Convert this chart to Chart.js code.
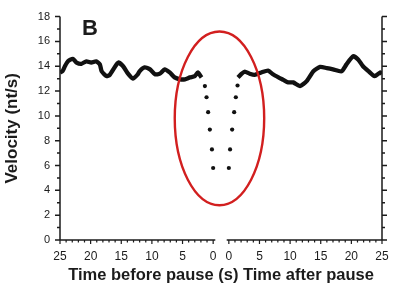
<!DOCTYPE html>
<html>
<head>
<meta charset="utf-8">
<script src="https://cdn.jsdelivr.net/npm/chart.js@4.4.1/dist/chart.umd.min.js"></script>
<style>
  html, body { margin: 0; padding: 0; background: #fff; }
</style>
</head>
<body>
<canvas id="chart" width="400" height="287"></canvas>
<script>
// seconds before the pause (left half, counted leftwards from 0)
const beforeTime = [25.0, 24.6, 24.2, 23.7, 22.9, 22.3, 21.5, 20.7, 19.9, 19.1, 18.5, 18.2, 17.4, 16.9,
    16.1, 15.5, 14.7, 13.9, 13.1, 12.3, 12.0, 11.2, 10.3, 9.5, 8.7, 7.9, 7.1, 6.3, 5.4, 4.6, 3.8, 3.0, 2.5, 1.9];
const beforeVelocity = [13.5, 13.6, 14.0, 14.4, 14.6, 14.3, 14.2, 14.4, 14.3, 14.4, 14.15, 13.6, 13.2, 13.3,
    13.9, 14.3, 14.0, 13.4, 13.0, 13.35, 13.6, 13.9, 13.75, 13.35, 13.4, 13.75, 13.5, 13.1, 12.95, 12.95, 13.1, 13.2, 13.5, 13.1];
const beforeDropTime = [1.35, 1.08, 0.82, 0.54, 0.2, 0];
const beforeDropVelocity = [12.4, 11.5, 10.3, 8.9, 7.3, 5.8];

// seconds after the pause (right half)
const afterRiseTime = [0, 0.2, 0.54, 0.87, 1.14, 1.42];
const afterRiseVelocity = [5.8, 7.3, 8.9, 10.3, 11.5, 12.45];
const afterTime = [1.5, 2.1, 2.6, 3.4, 4.2, 5.3, 6.4, 7.2, 8.1, 8.9, 9.7, 10.5, 11.6, 12.7, 13.8, 14.9,
    16.0, 17.0, 18.4, 19.2, 20.3, 21.1, 21.9, 22.8, 23.8, 24.7, 25.0];
const afterVelocity = [13.1, 13.4, 13.57, 13.4, 13.3, 13.5, 13.65, 13.35, 13.1, 12.9, 12.7, 12.7, 12.4, 12.8, 13.6, 13.95,
    13.85, 13.75, 13.6, 14.15, 14.8, 14.55, 14.0, 13.6, 13.2, 13.5, 13.4];

const xTickLabels = [0, 5, 10, 15, 20, 25];
const yMax = 18;

// half width of the break between the two halves, in seconds
const gap = 1.28;
// red ring drawn round the pause, in axis units
const ring = { x: -0.25, y: 9.8, rx: 7.3, ry: 7.0 };

const ink = "#1b1b1b";

const toLeft = (t, v) => t.map((s, i) => ({ x: -(s + gap), y: v[i] }));
const toRight = (t, v) => t.map((s, i) => ({ x: s + gap, y: v[i] }));

const framePlugin = {
    id: "frame",
    afterDatasetsDraw(chart) {
        const { ctx, chartArea: a, scales: { x, y } } = chart;
        ctx.save();
        ctx.strokeStyle = ink;
        ctx.lineWidth = 1.5;

        // left and right axes with outward ticks
        ctx.beginPath();
        ctx.moveTo(a.left, a.top); ctx.lineTo(a.left, a.bottom);
        ctx.moveTo(a.right, a.top); ctx.lineTo(a.right, a.bottom);
        for (let v = 0; v <= yMax; v++) {
            const py = y.getPixelForValue(v);
            const len = v % 2 === 0 ? 5 : 3;
            ctx.moveTo(a.left - len, py); ctx.lineTo(a.left, py);
            ctx.moveTo(a.right, py); ctx.lineTo(a.right + len, py);
        }
        ctx.stroke();

        // broken bottom axis
        ctx.beginPath();
        ctx.moveTo(x.getPixelForValue(-(25 + gap)), a.bottom);
        ctx.lineTo(x.getPixelForValue(-gap + 0.35), a.bottom);
        ctx.moveTo(x.getPixelForValue(gap - 0.35), a.bottom);
        ctx.lineTo(x.getPixelForValue(25 + gap), a.bottom);
        ctx.stroke();
        ctx.lineWidth = 1.2;
        ctx.beginPath();
        for (let s = 0; s <= 25; s++) {
            const len = s % 5 === 0 ? 4 : 2.5;
            [-(s + gap), s + gap].forEach((val) => {
                const px = x.getPixelForValue(val);
                ctx.moveTo(px, a.bottom); ctx.lineTo(px, a.bottom + len);
            });
        }
        ctx.stroke();

        // ring round the pause
        ctx.strokeStyle = "#d21f1f";
        ctx.lineWidth = 2.4;
        const cx = x.getPixelForValue(ring.x);
        const cy = y.getPixelForValue(ring.y);
        const rx = Math.abs(x.getPixelForValue(ring.x + ring.rx) - cx);
        const ry = Math.abs(y.getPixelForValue(ring.y + ring.ry) - cy);
        ctx.beginPath();
        ctx.ellipse(cx, cy, rx, ry, 0, 0, Math.PI * 2);
        ctx.stroke();

        // panel letter
        ctx.fillStyle = ink;
        ctx.font = "bold 22px 'Liberation Sans', Arial, sans-serif";
        ctx.textBaseline = "alphabetic";
        ctx.fillText("B", a.left + 22, a.top + 18);
        ctx.restore();
    }
};

const traceStyle = {
    showLine: true,
    borderColor: "#111",
    borderWidth: 4.3,
    pointRadius: 0,
    tension: 0.2,
    fill: false,
};
const dotStyle = {
    showLine: false,
    pointRadius: 2.1,
    pointBackgroundColor: "#111",
    pointBorderWidth: 0,
};

new Chart(document.getElementById("chart"), {
    type: "scatter",
    data: {
        datasets: [
            { ...traceStyle, data: toLeft(beforeTime, beforeVelocity) },
            { ...traceStyle, data: toRight(afterTime, afterVelocity) },
            { ...dotStyle, data: toLeft(beforeDropTime, beforeDropVelocity) },
            { ...dotStyle, data: toRight(afterRiseTime, afterRiseVelocity) },
        ]
    },
    options: {
        responsive: false,
        animation: false,
        devicePixelRatio: 1,
        layout: { padding: { top: 12, right: 18, left: 0, bottom: 0 } },
        plugins: { legend: { display: false }, tooltip: { enabled: false } },
        scales: {
            x: {
                type: "linear",
                min: -(25 + gap),
                max: 25 + gap,
                afterBuildTicks: (scale) => {
                    scale.ticks = [
                        ...xTickLabels.map((v) => ({ value: -(v + gap) })),
                        ...xTickLabels.map((v) => ({ value: v + gap })),
                    ];
                },
                afterFit: (scale) => { scale.height = 47; },
                grid: { display: false, drawTicks: false },
                border: { display: false },
                ticks: {
                    autoSkip: false,
                    maxRotation: 0,
                    padding: 9,
                    color: ink,
                    font: { family: "'Liberation Sans', Arial", size: 12 },
                    callback: (v) => Math.round(Math.abs(v) - gap),
                },
                title: {
                    display: true,
                    text: "Time before pause (s) Time after pause",
                    color: ink,
                    padding: { top: 0, bottom: 2 },
                    font: { family: "'Liberation Sans', Arial", size: 16.5, weight: "bold" },
                },
            },
            y: {
                min: 0,
                max: yMax,
                afterFit: (scale) => { scale.width = 60; },
                grid: { display: false, drawTicks: false },
                border: { display: false },
                ticks: {
                    stepSize: 2,
                    padding: 10,
                    color: ink,
                    font: { family: "'Liberation Sans', Arial", size: 11 },
                },
                title: {
                    display: true,
                    text: "Velocity (nt/s)",
                    color: ink,
                    padding: { top: 2, bottom: 0 },
                    font: { family: "'Liberation Sans', Arial", size: 17, weight: "bold" },
                },
            },
        },
    },
    plugins: [framePlugin],
});
</script>
</body>
</html>
